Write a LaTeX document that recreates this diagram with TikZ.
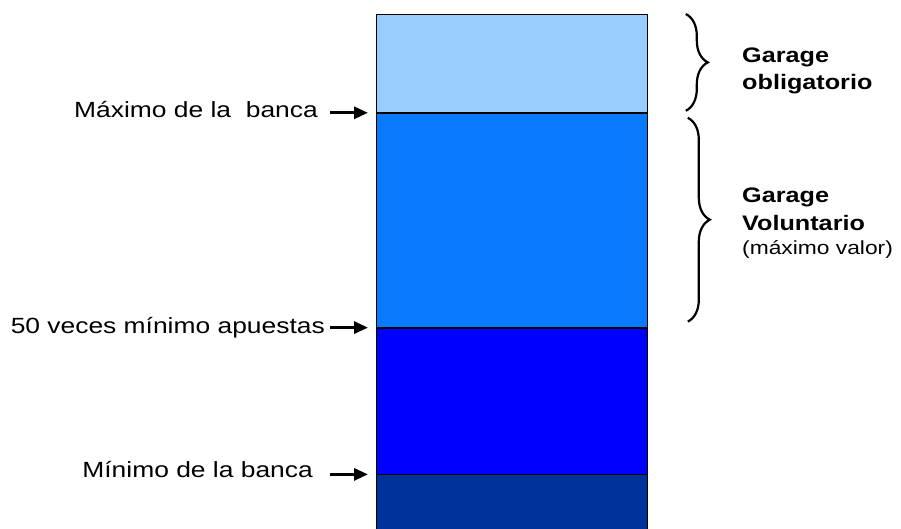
\documentclass[tikz,border=0pt]{standalone}
\usepackage{fontspec}
\newfontfamily\labfont[FakeStretch=1.2]{Liberation Sans}
\usetikzlibrary{arrows.meta,decorations.pathreplacing}
\definecolor{bandA}{HTML}{99CCFF}
\definecolor{bandB}{HTML}{0A7BFF}
\definecolor{bandC}{HTML}{0000FF}
\definecolor{bandD}{HTML}{003399}

\begin{document}
\begin{tikzpicture}[x=1pt,y=-1pt,
  band/.style={draw=black, line width=0.8pt, anchor=north west, inner sep=0pt, minimum width=271pt},
  lab/.style={font=\labfont\fontsize{22}{26}\selectfont, inner sep=0pt, anchor=base east},
  note/.style={font=\labfont\bfseries\fontsize{21}{26}\selectfont, inner sep=0pt, anchor=base west},
  pointer/.style={line width=3pt, -{Triangle[length=14pt,width=12pt]}},
  bracket/.style={decorate, decoration={brace, amplitude=22pt}, line width=2.2pt}]
\useasboundingbox (0,0) rectangle (901,529);
\clip (0,0) rectangle (901,529);
% the four bands of the bar
\node[band, fill=bandA, minimum height=98pt] (b1) at (376,14) {};
\node[band, fill=bandB, minimum height=214pt] (b2) at (b1.south west) {};
\node[band, fill=bandC, minimum height=146pt] (b3) at (b2.south west) {};
\node[band, fill=bandD, minimum height=80pt] (b4) at (b3.south west) {};
% labels on the left
\node[lab] (lmax) at (318,118) {Máximo de la\ \ banca};
\node[lab] (l50) at (325,333) {50 veces mínimo apuestas};
\node[lab] (lmin) at (313,477) {Mínimo de la banca};
\draw[pointer] ([xshift=-46pt]b1.south west) -- ([xshift=-8pt]b1.south west);
\draw[pointer] ([xshift=-46pt]b2.south west) -- ([xshift=-8pt]b2.south west);
\draw[pointer] ([xshift=-46pt]b3.south west) -- ([xshift=-8pt]b3.south west);
% braces on the right
\draw[bracket] ([xshift=38pt]b1.north east) -- ([xshift=38pt,yshift=2pt]b1.south east);
\draw[bracket] ([xshift=40pt,yshift=-5pt]b2.north east) -- ([xshift=40pt,yshift=6pt]b2.south east);
\node[note] (g1) at (742,63) {Garage};
\node[note] (o1) at (742,90) {obligatorio};
\node[note] (g2) at (742,203) {Garage};
\node[note] (v2) at (742,230) {Voluntario};
\node[note, font=\labfont\fontsize{19}{23}\selectfont] (m2) at (742,254) {(máximo valor)};
\end{tikzpicture}
\end{document}
